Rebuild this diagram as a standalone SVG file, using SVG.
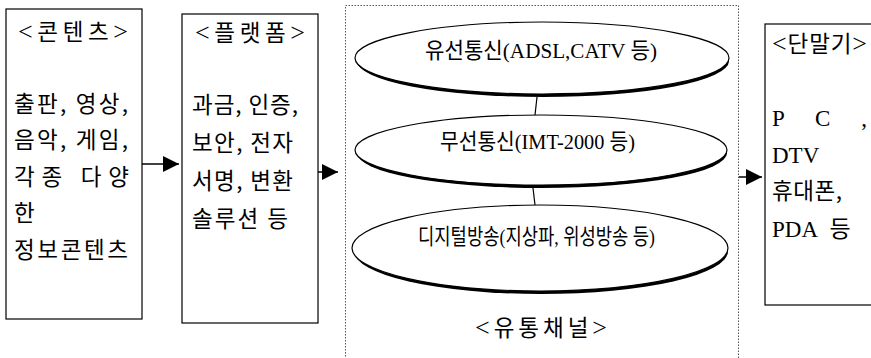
<svg xmlns="http://www.w3.org/2000/svg" width="871" height="358" viewBox="0 0 871 358">
<style>
  .box { fill: #fff; stroke: #000; stroke-width: 1.2; }
  .frame { fill: none; stroke: #555; stroke-width: 1; stroke-dasharray: 1.5 1.5; }
  .ell { fill: #fff; stroke: #000; stroke-width: 1.2; }
  .shadow { fill: #000; }
  .t { font-family: "Liberation Serif", "Noto Sans CJK KR", serif; font-size: 22px; fill: #000; }
  .tl { font-family: "Liberation Serif", "Noto Sans CJK KR", serif; font-size: 23px; fill: #000; }
  .k { font-family: "Noto Sans CJK KR", "Liberation Serif", serif; font-size: 22.5px; fill: #000; }
  .br { font-family: "Liberation Serif", serif; font-size: 26px; }
  .link { stroke: #000; stroke-width: 1.2; fill: none; }
  .arrow { stroke: #000; stroke-width: 1.5; fill: none; }
</style>
<defs>
  <marker id="ah" viewBox="0 0 16 16" refX="16" refY="8" markerWidth="16" markerHeight="16" markerUnits="userSpaceOnUse" orient="auto">
    <path d="M0,0 L16,8 L0,16 Z" fill="#000"/>
  </marker>
</defs>
<rect width="871" height="358" fill="#fff"/>

<g id="contents">
  <rect class="box" x="6" y="9" width="136" height="310"/>
  <text class="k" x="18" y="40" textLength="110" lengthAdjust="spacing"><tspan class="br">&lt;</tspan>콘텐츠<tspan class="br">&gt;</tspan></text>
  <text class="k" x="14" y="112" textLength="114" lengthAdjust="spacing">출판, 영상,</text>
  <text class="k" x="14" y="148" textLength="114" lengthAdjust="spacing">음악, 게임,</text>
  <text class="k" x="14" y="185" textLength="115" lengthAdjust="spacing">각종 다양</text>
  <text class="k" x="14" y="221">한</text>
  <text class="k" x="14" y="258" textLength="114" lengthAdjust="spacing">정보콘텐츠</text>
</g>

<g id="platform">
  <rect class="box" x="182" y="14" width="136" height="309"/>
  <text class="k" x="195" y="41" textLength="110" lengthAdjust="spacing"><tspan class="br">&lt;</tspan>플랫폼<tspan class="br">&gt;</tspan></text>
  <text class="k" x="192" y="113" textLength="106" lengthAdjust="spacing">과금, 인증,</text>
  <text class="k" x="192" y="151" textLength="101" lengthAdjust="spacing">보안, 전자</text>
  <text class="k" x="192" y="189" textLength="101" lengthAdjust="spacing">서명, 변환</text>
  <text class="k" x="192" y="227" textLength="96" lengthAdjust="spacing">솔루션 등</text>
</g>

<g id="channel">
  <rect class="frame" x="345.5" y="5.5" width="393" height="360"/>
  <text class="k" x="475" y="336" textLength="132" lengthAdjust="spacing"><tspan class="br">&lt;</tspan>유통채널<tspan class="br">&gt;</tspan></text>
</g>

<g id="wired">
  <ellipse class="shadow" cx="543" cy="61" rx="186" ry="36"/>
  <ellipse class="ell" cx="542" cy="58" rx="187" ry="36"/>
  <text class="t" x="425" y="58" textLength="232" lengthAdjust="spacingAndGlyphs">유선통신(ADSL,CATV 등)</text>
</g>

<g id="wireless">
  <ellipse class="shadow" cx="542" cy="153" rx="185" ry="35"/>
  <ellipse class="ell" cx="541" cy="150" rx="186" ry="35"/>
  <text class="t" x="440" y="149" textLength="195" lengthAdjust="spacingAndGlyphs">무선통신(IMT-2000 등)</text>
</g>

<g id="broadcast">
  <ellipse class="shadow" cx="541" cy="251" rx="187" ry="43"/>
  <ellipse class="ell" cx="540" cy="248" rx="188" ry="43"/>
  <text class="t" x="418" y="244" textLength="237" lengthAdjust="spacingAndGlyphs">디지털방송(지상파, 위성방송 등)</text>
</g>

<g id="terminal">
  <rect class="box" x="765" y="24" width="120" height="281"/>
  <text class="k" x="772" y="52" textLength="95" lengthAdjust="spacing"><tspan class="br">&lt;</tspan>단말기<tspan class="br">&gt;</tspan></text>
  <text class="tl" x="772" y="126" textLength="95" lengthAdjust="spacing">P C ,</text>
  <text class="tl" x="772" y="163">DTV</text>
  <text class="k" x="772" y="199" textLength="70" lengthAdjust="spacing">휴대폰,</text>
  <text class="tl" x="772" y="237">PDA <tspan dx="7">등</tspan></text>
</g>

<g id="connectors">
  <line class="arrow" x1="142" y1="164" x2="179" y2="164" marker-end="url(#ah)"/>
  <line class="arrow" x1="318" y1="172" x2="338" y2="172" marker-end="url(#ah)"/>
  <line class="arrow" x1="739" y1="177" x2="762" y2="177" marker-end="url(#ah)"/>
  <line class="link" x1="537" y1="97" x2="535" y2="115"/>
  <line class="link" x1="533" y1="188" x2="535" y2="205"/>
</g>
</svg>
